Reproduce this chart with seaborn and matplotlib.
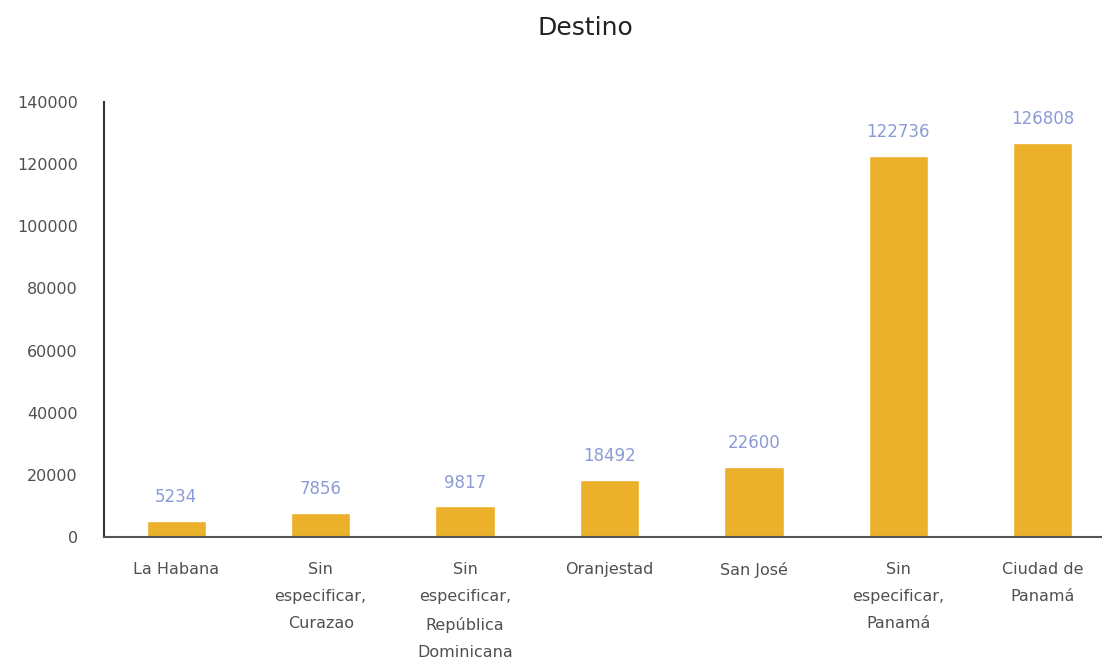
import matplotlib
matplotlib.use("Agg")
import matplotlib.pyplot as plt
import seaborn as sns
import pandas as pd

# ── DATA ────────────────────────────────────────────────────────────────────
destinos = ["La Habana", "Sin\nespecificar,\nCurazao", "Sin\nespecificar,\nRepública\nDominicana",
            "Oranjestad", "San José", "Sin\nespecificar,\nPanamá", "Ciudad de\nPanamá"]
valores = [5234, 7856, 9817, 18492, 22600, 122736, 126808]
y_ticks = [0, 20000, 40000, 60000, 80000, 100000, 120000, 140000]

df = pd.DataFrame({"destino": destinos, "valor": valores})

BAR = "#ebb12b"; LBL = "#8b9bd6"; TXT = "#505050"

sns.set_style("white")
plt.rcParams["font.family"] = ["DejaVu Sans"]

fig = plt.figure(figsize=(11.02, 6.6), dpi=100)
ax = fig.add_axes([0.0944, 0.1864, 0.9056, 0.659])
sns.barplot(data=df, x="destino", y="valor", color=BAR, width=0.41, ax=ax, saturation=1)

for i, v in enumerate(valores):
    ax.annotate(str(v), (i, v), xytext=(0, 17), textcoords="offset points",
                ha="center", va="center", color=LBL, fontsize=12)

ax.set_ylim(0, 140000)
ax.set_xlim(-0.5, 6.41)
ax.set_yticks(y_ticks)
ax.set_yticklabels([str(t) for t in y_ticks], color=TXT, fontsize=11.5)
ax.tick_params(axis="y", length=4, width=1.2, color="#333333", pad=15)
ax.tick_params(axis="x", length=0, pad=18, labelsize=11.5, labelcolor=TXT)
for lbl in ax.get_xticklabels():
    lbl.set_linespacing(2.0)
ax.set_xlabel(""); ax.set_ylabel("")
for s in ["top", "right"]:
    ax.spines[s].set_visible(False)
ax.spines["left"].set_color("#333333"); ax.spines["left"].set_linewidth(1.5)
ax.spines["bottom"].set_color("#555555"); ax.spines["bottom"].set_linewidth(1.5)
ax.spines["bottom"].set_zorder(5)

fig.text(0.531, 0.958, "Destino", ha="center", va="center", fontsize=18, color="#222222")

fig.savefig("out.png", dpi=100)
